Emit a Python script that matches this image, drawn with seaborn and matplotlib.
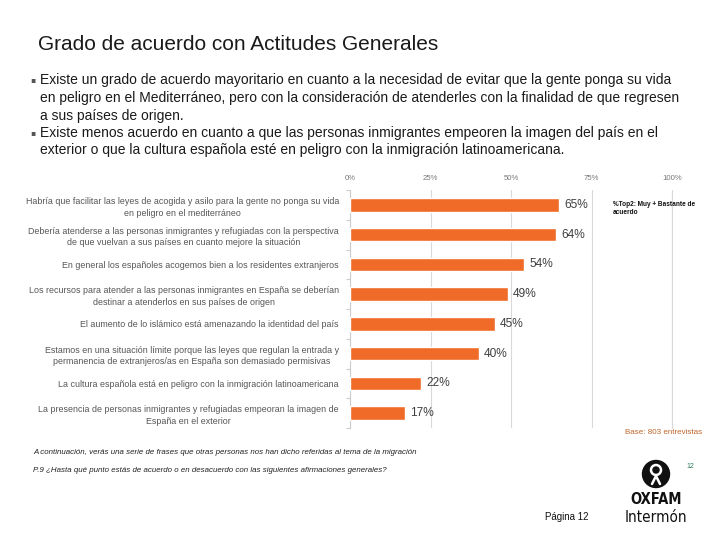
import matplotlib
matplotlib.use("Agg")
import matplotlib.pyplot as plt
import seaborn as sns
import pandas as pd
import numpy as np
from matplotlib.patches import Circle

sns.set_theme(style="white")
plt.rcParams['font.family'] = ['Liberation Sans', 'DejaVu Sans']

categories = [
    "Habría que facilitar las leyes de acogida y asilo para la gente no ponga su vida\nen peligro en el mediterráneo",
    "Debería atenderse a las personas inmigrantes y refugiadas con la perspectiva\nde que vuelvan a sus países en cuanto mejore la situación",
    "En general los españoles acogemos bien a los residentes extranjeros",
    "Los recursos para atender a las personas inmigrantes en España se deberían\ndestinar a atenderlos en sus países de origen",
    "El aumento de lo islámico está amenazando la identidad del país",
    "Estamos en una situación límite porque las leyes que regulan la entrada y\npermanencia de extranjeros/as en España son demasiado permisivas",
    "La cultura española está en peligro con la inmigración latinoamericana",
    "La presencia de personas inmigrantes y refugiadas empeoran la imagen de\nEspaña en el exterior",
]
values = [65, 64, 54, 49, 45, 40, 22, 17]
xticks = [0, 25, 50, 75, 100]
xtick_labels = ["0%", "25%", "50%", "75%", "100%"]

title = "Grado de acuerdo con Actitudes Generales"
bullets = [
    ("▪", "Existe un grado de acuerdo mayoritario en cuanto a la necesidad de evitar que la gente ponga su vida"),
    ("", "en peligro en el Mediterráneo, pero con la consideración de atenderles con la finalidad de que regresen"),
    ("", "a sus países de origen."),
    ("▪", "Existe menos acuerdo en cuanto a que las personas inmigrantes empeoren la imagen del país en el"),
    ("", "exterior o que la cultura española esté en peligro con la inmigración latinoamericana."),
]

df = pd.DataFrame({"cat": categories, "val": values})

W, H = 720, 540
fig = plt.figure(figsize=(7.2, 5.4), dpi=100)
fig.patch.set_facecolor("white")

def fx(px):
    return px / W

def fy(py):
    return 1 - py / H

ax = fig.add_axes([fx(350), fy(428), fx(672) - fx(350), fy(190) - fy(428)])
sns.barplot(data=df, x="val", y="cat", orient="h", color="#F06A28",
            width=0.46, saturation=1, ax=ax, zorder=3)
ax.set_xlim(0, 100)
ax.set_ylim(7.5, -0.5)
ax.set_xlabel("")
ax.set_ylabel("")
ax.xaxis.tick_top()
ax.set_xticks(xticks)
ax.set_xticklabels(xtick_labels, fontsize=5.6, color="#777777")
ax.tick_params(axis="x", length=0, pad=6)
ax.grid(axis="x", color="#D9D9D9", linewidth=0.8, zorder=0)
ax.axvline(100, color="#D9D9D9", linewidth=0.8, zorder=0, clip_on=False)
ax.set_yticks(range(len(categories)))
ax.set_yticklabels(categories, fontsize=6.4, color="#555555", multialignment="center",
                   linespacing=1.4)
ax.tick_params(axis="y", length=0, pad=8)
ax.set_yticks(np.arange(-0.5, len(categories), 1.0), minor=True)
ax.tick_params(axis="y", which="minor", length=3, color="#CCCCCC", width=0.8, left=True)
for s in ["top", "right", "bottom"]:
    ax.spines[s].set_visible(False)
ax.spines["left"].set_color("#CCCCCC")
ax.spines["left"].set_linewidth(0.8)

for i, v in enumerate(values):
    ax.text(v + 1.6, i, f"{v}%", va="center", ha="left", fontsize=8.6, color="#404040")

# Title and bullets
fig.text(fx(38), fy(45), title, fontsize=15, color="#1a1a1a", va="center", ha="left")
ys = [80, 98, 116, 133, 150]
for (b, t), y in zip(bullets, ys):
    if b:
        fig.text(fx(30), fy(y), b, fontsize=5.5, color="#555555", va="center", ha="left",
                 family=["DejaVu Sans"])
    fig.text(fx(40), fy(y), t, fontsize=10, color="#1a1a1a", va="center", ha="left")

# Legend note
fig.text(fx(613), fy(208), "%Top2: Muy + Bastante de\nacuerdo", fontsize=4.7, color="#111111",
         va="center", ha="left", fontweight="bold", linespacing=1.2)

# Base
fig.text(fx(702), fy(432), "Base: 803 entrevistas", fontsize=5.8, color="#C0652A", va="center", ha="right")

# Footnotes
fig.text(fx(33), fy(453), "A continuación, verás una serie de frases que otras personas nos han dicho referidas al tema de la migración",
         fontsize=5.7, style="italic", color="#222222", va="center", ha="left")
fig.text(fx(33), fy(471), "P.9 ¿Hasta qué punto estás de acuerdo o en desacuerdo con las siguientes afirmaciones generales?",
         fontsize=5.7, style="italic", color="#222222", va="center", ha="left")

fig.text(fx(690), fy(466), "12", fontsize=5, color="#2E7D5B", va="center", ha="center")
fig.text(fx(567), fy(517), "Página 12", fontsize=7, color="#111111", va="center", ha="center")

# Oxfam logo approximation
lax = fig.add_axes([0, 0, 1, 1], facecolor="none")
lax.set_xlim(0, W)
lax.set_ylim(H, 0)
lax.set_aspect("equal")
lax.axis("off")
lax.add_patch(Circle((656, 474), 13.5, color="#111111"))
lax.add_patch(Circle((656, 470), 5, fill=False, edgecolor="white", linewidth=1.8))
lax.plot([652, 656, 660], [484, 476, 484], color="white", linewidth=1.8)
fig.text(fx(656), fy(499), "OXFAM", fontsize=10.5, fontweight="bold", color="#111111",
         va="center", ha="center", family=["DejaVu Sans"], fontstretch="condensed")
fig.text(fx(656), fy(517), "Intermón", fontsize=11, color="#111111",
         va="center", ha="center", family=["DejaVu Sans"], fontstretch="condensed")

fig.savefig("out.png", dpi=100, facecolor="white")
